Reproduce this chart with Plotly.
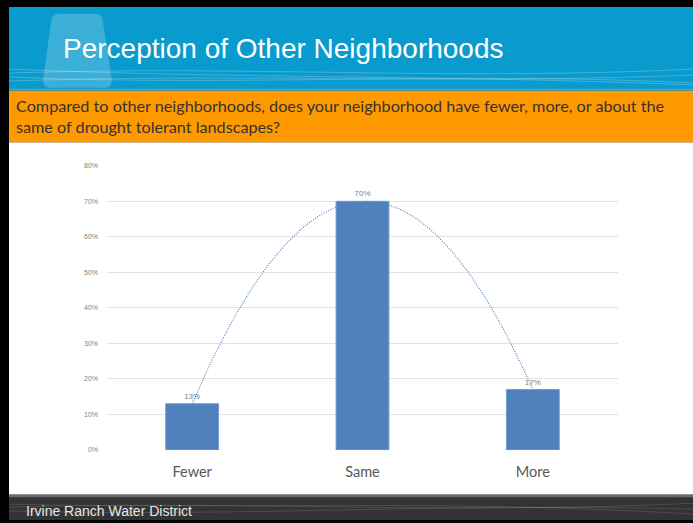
import numpy as np
import plotly.graph_objects as go

categories = ["Fewer", "Same", "More"]
values = [0.13, 0.70, 0.17]
value_labels = ["13%", "70%", "17%"]
y_ticks = [0, 0.1, 0.2, 0.3, 0.4, 0.5, 0.6, 0.7, 0.8]
y_tick_labels = ["0%", "10%", "20%", "30%", "40%", "50%", "60%", "70%", "80%"]

W, H = 693, 523

def py(px):
    return 1 - px / H

def pxx(px):
    return px / W

xpos = list(range(len(categories)))
coef = np.polyfit(xpos, values, 2)
tx = np.linspace(0, len(categories) - 1, 80)
ty = np.polyval(coef, tx)

fig = go.Figure()
fig.add_trace(go.Bar(
    x=xpos, y=values, width=0.31,
    marker=dict(color="#4F81BD", line=dict(color="#6E9BD3", width=1)),
    text=value_labels, textposition="outside",
    textfont=dict(family="Liberation Sans", size=8, color="#7F7F7F"),
    cliponaxis=False, hoverinfo="skip",
))
fig.add_trace(go.Scatter(
    x=tx, y=ty, mode="lines",
    line=dict(color="#4F81BD", width=1.2, dash="1px,1.5px"),
    hoverinfo="skip",
))

shapes = []
shapes.append(dict(type="rect", xref="paper", yref="paper", x0=0, x1=1, y0=0, y1=1,
                   fillcolor="black", line=dict(width=0), layer="below"))
shapes.append(dict(type="rect", xref="paper", yref="paper", x0=pxx(9), x1=1, y0=py(498), y1=py(140),
                   fillcolor="white", line=dict(width=0), layer="below"))
shapes.append(dict(type="rect", xref="paper", yref="paper", x0=pxx(9), x1=1, y0=py(88), y1=py(3),
                   fillcolor="#0A9BCE", line=dict(width=0), layer="below"))
tab = ("M {a},{b} Q {a},{c} {d},{c} L {e},{c} Q {f},{c} {f},{b} "
       "L {g},{h} Q {g},{i} {j},{i} L {k},{i} Q {l},{i} {l},{h} Z").format(
    a=pxx(51), b=py(19), c=py(10), d=pxx(59), e=pxx(95), f=pxx(103),
    g=pxx(112), h=py(77), i=py(85), j=pxx(104), k=pxx(51), l=pxx(43))
shapes.append(dict(type="path", xref="paper", yref="paper", path=tab,
                   fillcolor="rgba(255,255,255,0.2)", line=dict(width=0), layer="below"))
waves = [
    (70, 62, 78, 66),
    (74, 84, 68, 80),
    (78, 70, 82, 72),
    (66, 76, 72, 82),
]
for y0, c1, c2, y1 in waves:
    p = "M {x0},{y0} C {xa},{ya} {xb},{yb} {x1},{y1}".format(
        x0=pxx(9), y0=py(y0), xa=pxx(250), ya=py(c1), xb=pxx(450), yb=py(c2), x1=1, y1=py(y1))
    shapes.append(dict(type="path", xref="paper", yref="paper", path=p,
                       line=dict(color="rgba(255,255,255,0.22)", width=1), layer="below"))
shapes.append(dict(type="rect", xref="paper", yref="paper", x0=pxx(9), x1=1, y0=py(88), y1=py(86),
                   fillcolor="rgba(255,255,255,0.2)", line=dict(width=0), layer="below"))
shapes.append(dict(type="rect", xref="paper", yref="paper", x0=pxx(9), x1=1, y0=py(140), y1=py(88),
                   fillcolor="#FF9900", line=dict(width=0), layer="below"))
shapes.append(dict(type="rect", xref="paper", yref="paper", x0=pxx(9), x1=1, y0=0, y1=py(498),
                   fillcolor="#333333", line=dict(width=0), layer="below"))
shapes.append(dict(type="rect", xref="paper", yref="paper", x0=pxx(9), x1=1, y0=py(500), y1=py(497),
                   fillcolor="#6B6B6B", line=dict(width=0), layer="below"))
for y0, c1, c2, y1 in [(510, 503, 518, 506), (514, 520, 505, 512), (507, 512, 502, 517)]:
    p = "M {x0},{y0} C {xa},{ya} {xb},{yb} {x1},{y1}".format(
        x0=pxx(9), y0=py(y0), xa=pxx(250), ya=py(c1), xb=pxx(450), yb=py(c2), x1=1, y1=py(y1))
    shapes.append(dict(type="path", xref="paper", yref="paper", path=p,
                       line=dict(color="rgba(255,255,255,0.12)", width=1), layer="below"))

annotations = [
    dict(text="Perception of Other Neighborhoods", xref="paper", yref="paper",
         x=pxx(61), y=py(45), xanchor="left", yanchor="middle", showarrow=False,
         font=dict(family="Liberation Sans", size=28, color="white")),
    dict(text="Compared to other neighborhoods, does your neighborhood have fewer, more, or about the<br>same of drought tolerant landscapes?",
         xref="paper", yref="paper", x=pxx(14), y=py(114), xanchor="left", yanchor="middle",
         align="left", showarrow=False,
         font=dict(family="Lato", size=16.2, color="#333333")),
    dict(text="Irvine Ranch Water District", xref="paper", yref="paper",
         x=pxx(24), y=py(514), xanchor="left", yanchor="middle", showarrow=False,
         font=dict(family="Liberation Sans", size=14, color="#E6E6E6")),
]

fig.update_layout(
    width=W, height=H,
    margin=dict(l=0, r=0, t=0, b=0),
    paper_bgcolor="black", plot_bgcolor="rgba(0,0,0,0)",
    showlegend=False,
    shapes=shapes, annotations=annotations,
    xaxis=dict(domain=[pxx(107), pxx(618)], range=[-0.5, 2.5],
               tickvals=xpos, ticktext=categories, showgrid=False, zeroline=False,
               showline=False, ticks="", ticklen=0, ticklabelstandoff=12,
               tickfont=dict(family="Lato", size=14.5, color="#595959")),
    yaxis=dict(domain=[py(452), py(164)], range=[0, 0.8],
               tickvals=y_ticks, ticktext=y_tick_labels, showgrid=True,
               gridcolor="#E3E3E3", gridwidth=1, zeroline=False, showline=False,
               ticks="", ticklabelstandoff=8,
               tickfont=dict(family="Liberation Sans", size=7, color="#7F7F7F")),
)

fig.write_html("out.html", config={"displayModeBar": False},
               post_script="document.body.style.margin='0';document.body.style.overflow='hidden';")
